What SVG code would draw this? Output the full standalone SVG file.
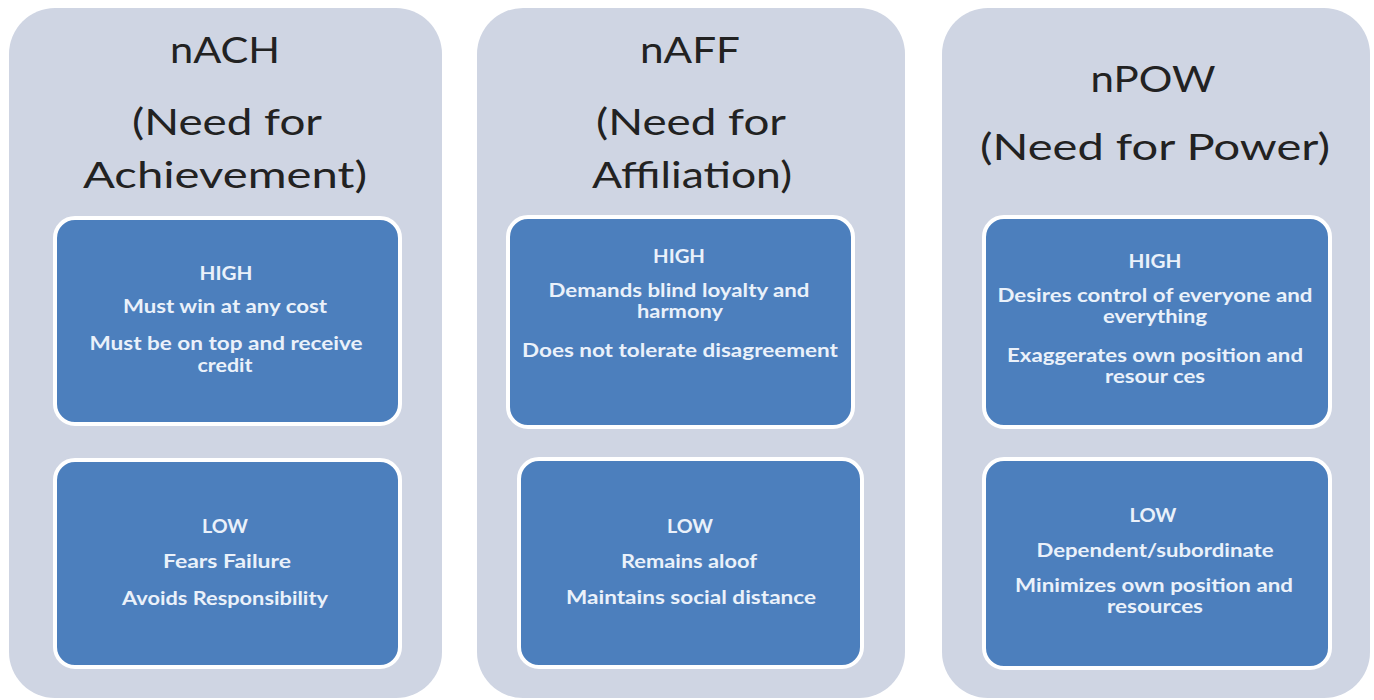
<svg xmlns="http://www.w3.org/2000/svg" width="1374" height="700" viewBox="0 0 1374 700">
  <style>
    .panel { fill: #cfd5e3; }
    .box { fill: #4c7fbd; stroke: #ffffff; stroke-width: 4; }
    .title { font-family: Lato, "Open Sans", "Liberation Sans", sans-serif; font-size: 37px; fill: #222222; text-anchor: middle; }
    .item { font-family: Lato, "Open Sans", "Liberation Sans", sans-serif; font-size: 18px; font-weight: bold; fill: #eaf1fa; text-anchor: middle; }
  </style>
  <rect width="1374" height="700" fill="#ffffff"/>

  <!-- Need for Achievement -->
  <g id="nach">
    <rect class="panel" x="9" y="8" width="433" height="690" rx="46"/>
    <text class="title" x="225" y="63" textLength="110" lengthAdjust="spacingAndGlyphs">nACH</text>
    <text class="title" x="227" y="135" textLength="190" lengthAdjust="spacingAndGlyphs">(Need for</text>
    <text class="title" x="225" y="188" textLength="284" lengthAdjust="spacingAndGlyphs">Achievement)</text>
  </g>
  <g id="nach-high">
    <rect class="box" x="55" y="218" width="345" height="206" rx="20"/>
    <text class="item" x="226" y="280" textLength="53" lengthAdjust="spacingAndGlyphs">HIGH</text>
    <text class="item" x="225" y="313" textLength="204" lengthAdjust="spacingAndGlyphs">Must win at any cost</text>
    <text class="item" x="226" y="350" textLength="273" lengthAdjust="spacingAndGlyphs">Must be on top and receive</text>
    <text class="item" x="225" y="372" textLength="55" lengthAdjust="spacingAndGlyphs">credit</text>
  </g>
  <g id="nach-low">
    <rect class="box" x="55" y="460" width="345" height="207" rx="20"/>
    <text class="item" x="225" y="533" textLength="46" lengthAdjust="spacingAndGlyphs">LOW</text>
    <text class="item" x="227" y="568" textLength="128" lengthAdjust="spacingAndGlyphs">Fears Failure</text>
    <text class="item" x="225" y="605" textLength="206" lengthAdjust="spacingAndGlyphs">Avoids Responsibility</text>
  </g>

  <!-- Need for Affiliation -->
  <g id="naff">
    <rect class="panel" x="477" y="8" width="428" height="690" rx="46"/>
    <text class="title" x="690" y="63" textLength="100" lengthAdjust="spacingAndGlyphs">nAFF</text>
    <text class="title" x="691" y="135" textLength="190" lengthAdjust="spacingAndGlyphs">(Need for</text>
    <text class="title" x="692" y="188" textLength="200" lengthAdjust="spacingAndGlyphs">Affiliation)</text>
  </g>
  <g id="naff-high">
    <rect class="box" x="508" y="217" width="345" height="210" rx="20"/>
    <text class="item" x="679" y="263" textLength="52" lengthAdjust="spacingAndGlyphs">HIGH</text>
    <text class="item" x="679" y="297" textLength="261" lengthAdjust="spacingAndGlyphs">Demands blind loyalty and</text>
    <text class="item" x="680" y="318" textLength="86" lengthAdjust="spacingAndGlyphs">harmony</text>
    <text class="item" x="680" y="357" textLength="316" lengthAdjust="spacingAndGlyphs">Does not tolerate disagreement</text>
  </g>
  <g id="naff-low">
    <rect class="box" x="519" y="459" width="343" height="208" rx="20"/>
    <text class="item" x="690" y="533" textLength="46" lengthAdjust="spacingAndGlyphs">LOW</text>
    <text class="item" x="689" y="568" textLength="136" lengthAdjust="spacingAndGlyphs">Remains aloof</text>
    <text class="item" x="691" y="604" textLength="250" lengthAdjust="spacingAndGlyphs">Maintains social distance</text>
  </g>

  <!-- Need for Power -->
  <g id="npow">
    <rect class="panel" x="942" y="8" width="428" height="690" rx="46"/>
    <text class="title" x="1153" y="92" textLength="125" lengthAdjust="spacingAndGlyphs">nPOW</text>
    <text class="title" x="1155" y="160" textLength="350" lengthAdjust="spacingAndGlyphs">(Need for Power)</text>
  </g>
  <g id="npow-high">
    <rect class="box" x="984" y="217" width="346" height="210" rx="20"/>
    <text class="item" x="1155" y="268" textLength="53" lengthAdjust="spacingAndGlyphs">HIGH</text>
    <text class="item" x="1155" y="302" textLength="315" lengthAdjust="spacingAndGlyphs">Desires control of everyone and</text>
    <text class="item" x="1155" y="323" textLength="104" lengthAdjust="spacingAndGlyphs">everything</text>
    <text class="item" x="1155" y="362" textLength="296" lengthAdjust="spacingAndGlyphs">Exaggerates own position and</text>
    <text class="item" x="1155" y="383" textLength="100" lengthAdjust="spacingAndGlyphs">resour ces</text>
  </g>
  <g id="npow-low">
    <rect class="box" x="984" y="459" width="346" height="209" rx="20"/>
    <text class="item" x="1153" y="522" textLength="47" lengthAdjust="spacingAndGlyphs">LOW</text>
    <text class="item" x="1155" y="557" textLength="237" lengthAdjust="spacingAndGlyphs">Dependent/subordinate</text>
    <text class="item" x="1154" y="592" textLength="278" lengthAdjust="spacingAndGlyphs">Minimizes own position and</text>
    <text class="item" x="1155" y="613" textLength="96" lengthAdjust="spacingAndGlyphs">resources</text>
  </g>

  <!-- no connectors in this layout -->
  <g id="connectors"/>
</svg>
